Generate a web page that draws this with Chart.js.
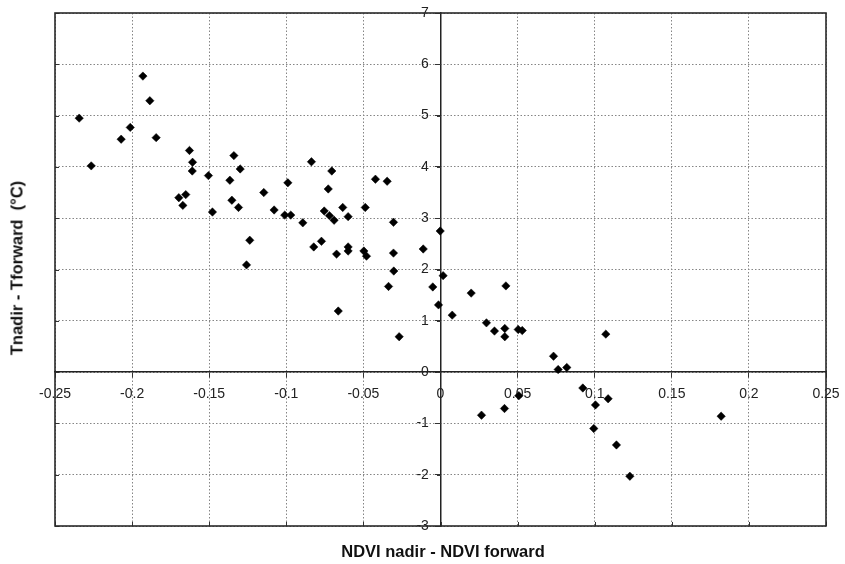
<!DOCTYPE html>
<html>
<head>
<meta charset="utf-8">
<script src="https://cdn.jsdelivr.net/npm/chart.js@4/dist/chart.umd.min.js"></script>
<style>
    html, body { margin: 0; padding: 0; background: #fff; }
    #wrap { position: relative; width: 845px; height: 564px; }
    canvas { position: absolute; left: 0; top: 0; }
    .axis-title { position: absolute; font-family: 'Liberation Sans', Arial, sans-serif; font-weight: bold; font-size: 16.5px; color: #111; white-space: pre; }
    #xTitle { left: 443px; top: 551px; transform: translate(-50%, -50%); }
    #yTitle { left: 17px; top: 268px; transform: translate(-50%, -50%) rotate(-90deg); }
</style>
</head>
<body>
<div id="wrap">
    <canvas id="chart" width="845" height="564"></canvas>
    <div class="axis-title" id="xTitle">NDVI nadir - NDVI forward</div>
    <div class="axis-title" id="yTitle">Tnadir - Tforward  (°C)</div>
</div>
<script>
// Data
const ndviDiff = [
    -0.2343, -0.2265, -0.2071, -0.2012, -0.1930, -0.1885, -0.1844, -0.1697, -0.1671, -0.1652,
    -0.1628, -0.1608, -0.1610, -0.1505, -0.1479, -0.1366, -0.1353, -0.1340, -0.1310, -0.1299,
    -0.1258, -0.1237, -0.1146, -0.1079, -0.1010, -0.0971, -0.0990, -0.0893, -0.0837, -0.0822,
    -0.0772, -0.0754, -0.0728, -0.0720, -0.0705, -0.0690, -0.0674, -0.0663, -0.0634, -0.0599,
    -0.0599, -0.0599, -0.0497, -0.0488, -0.0480, -0.0422, -0.0346, -0.0337, -0.0305, -0.0305,
    -0.0303, -0.0268, -0.0112, -0.0050, -0.0013, -0.0002, 0.0017, 0.0076, 0.0199, 0.0298,
    0.0350, 0.0417, 0.0417, 0.0424, 0.0504, 0.0530, 0.0733, 0.0763, 0.0819, 0.1072,
    0.0923, 0.1087, 0.1005, 0.0508, 0.0415, 0.0266, 0.0994, 0.1141, 0.1228, 0.1820
];
const tempDiff = [
    4.95, 4.02, 4.54, 4.77, 5.77, 5.29, 4.57, 3.40, 3.25, 3.46,
    4.32, 4.09, 3.92, 3.83, 3.12, 3.74, 3.35, 4.22, 3.21, 3.96,
    2.09, 2.57, 3.50, 3.16, 3.06, 3.06, 3.69, 2.91, 4.10, 2.44,
    2.55, 3.14, 3.57, 3.05, 3.92, 2.96, 2.30, 1.19, 3.21, 3.03,
    2.44, 2.36, 2.36, 3.21, 2.26, 3.76, 3.72, 1.67, 2.92, 2.32,
    1.97, 0.69, 2.40, 1.66, 1.31, 2.75, 1.88, 1.11, 1.54, 0.96,
    0.80, 0.85, 0.69, 1.68, 0.83, 0.81, 0.31, 0.05, 0.09, 0.74,
    -0.31, -0.52, -0.64, -0.46, -0.71, -0.84, -1.10, -1.42, -2.03, -0.86
];

// Axis ranges
const xRange = [-0.25, 0.25];
const yRange = [-3, 7];
const xStep = 0.05;
const yStep = 1;

// Target plot box in page pixels
const AREA = { left: 55, top: 13, right: 826, bottom: 526 };

const points = ndviDiff.map((x, i) => ({ x: x, y: tempDiff[i] }));

// Frame around the plot, small marks on its edges and on the centred y axis
const framePlugin = {
    id: 'frame',
    afterDraw(chart) {
        const { ctx, chartArea: a, scales } = chart;
        const x0 = Math.round(scales.x.getPixelForValue(0));
        ctx.save();
        ctx.strokeStyle = '#333';
        ctx.lineWidth = 1;
        scales.x.ticks.forEach(t => {
            const px = Math.round(scales.x.getPixelForValue(t.value)) + 0.5;
            ctx.beginPath(); ctx.moveTo(px, a.bottom); ctx.lineTo(px, a.bottom - 4); ctx.stroke();
        });
        scales.y.ticks.forEach(t => {
            const py = Math.round(scales.y.getPixelForValue(t.value)) + 0.5;
            ctx.beginPath(); ctx.moveTo(a.left, py); ctx.lineTo(a.left + 4, py); ctx.stroke();
            ctx.beginPath(); ctx.moveTo(x0 - 4, py); ctx.lineTo(x0, py); ctx.stroke();
        });
        ctx.lineWidth = 1.6;
        ctx.strokeStyle = '#2a2a2a';
        ctx.strokeRect(a.left, a.top, a.right - a.left, a.bottom - a.top);
        ctx.restore();
    }
};

const fmt = v => String(parseFloat(Number(v).toFixed(2)));
const tickFont = { family: "'Liberation Sans', Arial, sans-serif", size: 14 };

const gridOpts = {
    color: '#858585',
    lineWidth: 1,
    tickLength: 5,
    tickColor: '#333',
    tickWidth: 1,
    tickBorderDash: [10, 0]
};

// keep edge labels from squeezing the plot box
const noEdgePad = scale => {
    scale.paddingLeft = 0; scale.paddingRight = 0;
    scale.paddingTop = 0; scale.paddingBottom = 0;
};

const ctx = document.getElementById('chart').getContext('2d');
const chart = new Chart(ctx, {
    type: 'scatter',
    data: {
        datasets: [{
            data: points,
            pointStyle: 'rectRot',
            pointRadius: 4.2,
            pointHoverRadius: 4.2,
            backgroundColor: '#000',
            borderColor: '#000',
            borderWidth: 0.5
        }]
    },
    options: {
        responsive: false,
        animation: false,
        layout: { padding: { left: AREA.left, top: AREA.top, right: 845 - AREA.right, bottom: 564 - AREA.bottom } },
        plugins: { legend: { display: false }, tooltip: { enabled: false } },
        scales: {
            x: {
                type: 'linear',
                position: { y: 0 },
                min: xRange[0], max: xRange[1],
                afterFit: noEdgePad,
                grid: gridOpts,
                border: { display: true, color: '#222', width: 1.5, dash: [1.5, 2] },
                ticks: {
                    stepSize: xStep,
                    autoSkip: false,
                    maxRotation: 0,
                    padding: 9,
                    color: '#222',
                    font: tickFont,
                    callback: v => fmt(v)
                }
            },
            y: {
                type: 'linear',
                position: { x: 0 },
                min: yRange[0], max: yRange[1],
                afterFit: noEdgePad,
                grid: gridOpts,
                border: { display: true, color: '#222', width: 1.5, dash: [1.5, 2] },
                ticks: {
                    stepSize: yStep,
                    autoSkip: false,
                    color: '#222',
                    font: tickFont,
                    // labels of a centred y axis are drawn flush with the axis, so pad with spaces
                    callback: v => fmt(v) + '   '
                }
            }
        }
    },
    plugins: [framePlugin]
});

// Nudge the layout padding until the plot box sits where the reference has it
for (let i = 0; i < 4; i++) {
    const a = chart.chartArea;
    const p = chart.options.layout.padding;
    p.left += AREA.left - a.left;
    p.top += AREA.top - a.top;
    p.right += a.right - AREA.right;
    p.bottom += a.bottom - AREA.bottom;
    chart.update('none');
}
</script>
</body>
</html>
